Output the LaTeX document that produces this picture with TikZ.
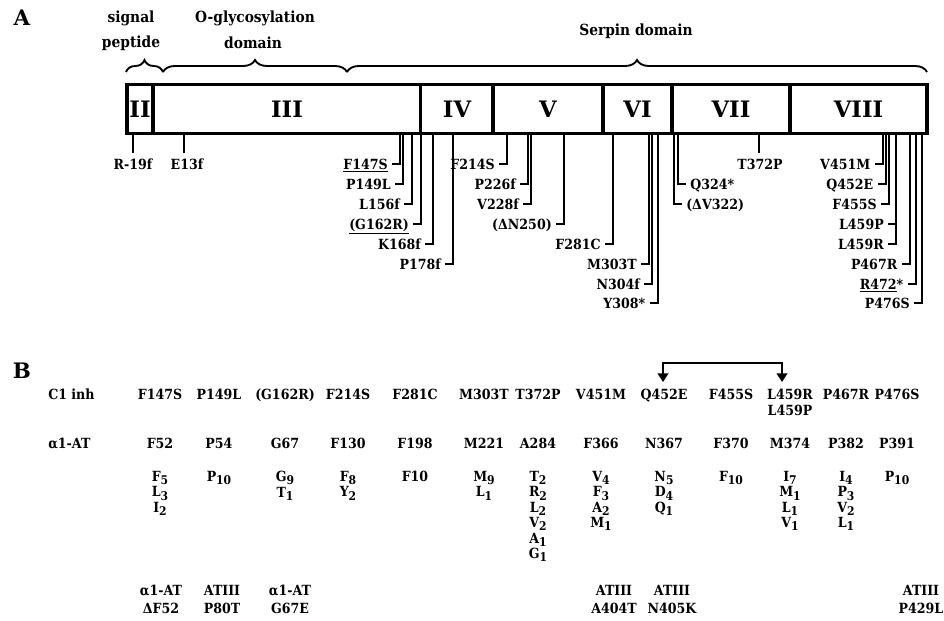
\documentclass[tikz,border=0pt]{standalone}
\usepackage{fontspec}
\setmainfont{DejaVu Serif}[FakeStretch=0.9]
\newfontfamily\exonfont{DejaVu Serif}
\usetikzlibrary{decorations.pathreplacing,arrows.meta}

% lowered index digits in the residue tables
\newcommand\lowidx[1]{\raisebox{-2.3pt}{\fontsize{9}{9}\selectfont #1}}
% mutation with its label to the left of the vertical line
\newcommand\mutleft[4]{%
  \coordinate (#1-t) at (#2,133.5);
  \node[mutl] (#1) at (#2-12,#3) {#4};
  \draw[tick] (#1-t) |- ([xshift=3pt]#1.east);
}
% mutation with its label to the right of the vertical line
\newcommand\mutright[4]{%
  \coordinate (#1-t) at (#2,133.5);
  \node[mutr] (#1) at (#2+12,#3) {#4};
  \draw[tick] (#1-t) |- ([xshift=-3pt]#1.west);
}
% mutation with its label centred under a short line
\newcommand\mutcenter[4]{%
  \coordinate (#1-t) at (#2,133.5);
  \node[mutc] (#1) at (#3,153) {#4};
  \draw[tick] (#1-t) -- (#1-t |- #1.north);
}

\begin{document}
\begin{tikzpicture}[x=0.75pt,y=-0.75pt,
  lab/.style={font=\bfseries\fontsize{10.5}{11.4}\selectfont, inner sep=0pt,
              text height=7.6pt, text depth=0pt},
  mutl/.style={lab, anchor=east},
  mutr/.style={lab, anchor=west},
  mutc/.style={lab, anchor=north, inner ysep=4.3pt},
  tick/.style={line width=1.5pt},
  wall/.style={line width=2.6pt},
  exon/.style={font=\exonfont\bfseries\fontsize{17}{17}\selectfont, inner sep=0pt},
  brc/.style={decorate, decoration={brace, amplitude=9pt}, line width=1.4pt},
  head/.style={font=\bfseries\fontsize{11.5}{13}\selectfont, inner sep=0pt},
  panel/.style={font=\exonfont\bfseries\fontsize{16}{16}\selectfont, inner sep=0pt},
  cell/.style={font=\bfseries\fontsize{10.5}{11.4}\selectfont, inner sep=0pt, anchor=base},
  rowhead/.style={cell, anchor=base west},
  stack/.style={font=\bfseries\fontsize{10.5}{11.6}\selectfont, inner sep=0pt,
                anchor=north, align=center},
  pair/.style={font=\bfseries\fontsize{10.5}{13.5}\selectfont, inner sep=0pt,
               anchor=north, align=center},
]
\useasboundingbox (0,0) rectangle (944,620);

% ---------------- panel A ----------------
\node[panel] (pA) at (22,18) {A};

\node[head] (sig1) at (131,18) {signal};
\node[head] (sig2) at (131,43) {peptide};
\node[head] (gly1) at (255,18) {O-glycosylation};
\node[head] (gly2) at (253,43) {domain};
\node[head] (ser) at (636,31) {Serpin domain};

\coordinate (b0) at (126,72);
\coordinate (b1) at (163,72);
\coordinate (b2) at (347,72);
\coordinate (b3) at (927,72);
\draw[brc] (b0) -- (b1);
\draw[brc] (b1) -- (b2);
\draw[brc] (b2) -- (b3);

% exon bar
\draw[wall] (127,84.5) rectangle (927,133.5);
\foreach \xd in {153,420.5,493,603,672,790}
  \draw[wall] (\xd,84.5) -- (\xd,133.5);
\node[exon] (e2) at (140,109) {II};
\node[exon] (e3) at (287,109) {III};
\node[exon] (e4) at (457,109) {IV};
\node[exon] (e5) at (548,109) {V};
\node[exon] (e6) at (637.5,109) {VI};
\node[exon] (e7) at (731,109) {VII};
\node[exon] (e8) at (858.5,109) {VIII};

% mutations
\mutcenter{rm19}{133}{133}{R-19f}
\mutcenter{e13}{184}{187}{E13f}
\mutleft{f147}{400}{164}{\underline{F147S}}
\mutleft{p149}{403}{184}{P149L}
\mutleft{l156}{412}{204}{L156f}
\mutleft{g162}{421}{224}{\underline{(G162R)}}
\mutleft{k168}{433}{244}{K168f}
\mutleft{p178}{453}{264}{P178f}
\mutleft{f214}{507}{164}{F214S}
\mutleft{p226}{528}{184}{P226f}
\mutleft{v228}{531}{204}{V228f}
\mutleft{n250}{564}{224}{(ΔN250)}
\mutleft{f281}{613}{244}{F281C}
\mutleft{m303}{649}{264}{M303T}
\mutleft{n304}{652}{284}{N304f}
\mutleft{y308}{657.5}{303}{Y308*}
\mutright{q324}{678}{184}{Q324*}
\mutright{v322}{674}{204}{(ΔV322)}
\mutcenter{t372}{759}{760}{T372P}
\mutleft{v451}{882.5}{164}{V451M}
\mutleft{q452}{885.5}{184}{Q452E}
\mutleft{f455}{889}{204}{F455S}
\mutleft{l459r}{896}{244}{L459R}
\node[mutl] (l459p) at (884,224) {L459P};
\draw[tick] (l459r-t |- l459p.east) -- ([xshift=3pt]l459p.east);
\mutleft{p467}{909.5}{264}{P467R}
\mutleft{r472}{915.5}{284}{\underline{R472}*}
\mutleft{p476}{922}{303}{P476S}

% ---------------- panel B ----------------
\node[panel] (pB) at (22,371) {B};

\node[rowhead] (hC) at (48,399) {C1 inh};
\node[rowhead] (hA) at (48,448) {α1-AT};

% C1 inhibitor mutations
\node[cell] (c1) at (160,399) {F147S};
\node[cell] (c2) at (219,399) {P149L};
\node[cell] (c3) at (285,399) {(G162R)};
\node[cell] (c4) at (348,399) {F214S};
\node[cell] (c5) at (415,399) {F281C};
\node[cell] (c6) at (484,399) {M303T};
\node[cell] (c7) at (538,399) {T372P};
\node[cell] (c8) at (601,399) {V451M};
\node[cell] (c9) at (664,399) {Q452E};
\node[cell] (c10) at (731,399) {F455S};
\node[cell] (c11) at (790,399) {L459R};
\node[cell] (c11b) at (790,415) {L459P};
\node[cell] (c12) at (846,399) {P467R};
\node[cell] (c13) at (897,399) {P476S};

% linked pair
\coordinate (lnkQ) at (663,382);
\coordinate (lnkL) at (782,382);
\draw[line width=1.5pt, {Triangle[width=8pt,length=6.5pt]}-{Triangle[width=8pt,length=6.5pt]}]
  (lnkQ) -- ++(0,-19) -| (lnkL);

% alpha1-antitrypsin equivalents
\node[cell] (a1) at (160,448) {F52};
\node[cell] (a2) at (219,448) {P54};
\node[cell] (a3) at (285,448) {G67};
\node[cell] (a4) at (348,448) {F130};
\node[cell] (a5) at (415,448) {F198};
\node[cell] (a6) at (484,448) {M221};
\node[cell] (a7) at (538,448) {A284};
\node[cell] (a8) at (601,448) {F366};
\node[cell] (a9) at (664,448) {N367};
\node[cell] (a10) at (731,448) {F370};
\node[cell] (a11) at (790,448) {M374};
\node[cell] (a12) at (846,448) {P382};
\node[cell] (a13) at (897,448) {P391};

% residue frequencies
\node[stack] (s1) at (160,471) {F\lowidx{5}\\L\lowidx{3}\\I\lowidx{2}};
\node[stack] (s2) at (219,471) {P\lowidx{10}};
\node[stack] (s3) at (285,471) {G\lowidx{9}\\T\lowidx{1}};
\node[stack] (s4) at (348,471) {F\lowidx{8}\\Y\lowidx{2}};
\node[stack] (s5) at (415,471) {F10};
\node[stack] (s6) at (484,471) {M\lowidx{9}\\L\lowidx{1}};
\node[stack] (s7) at (538,471) {T\lowidx{2}\\R\lowidx{2}\\L\lowidx{2}\\V\lowidx{2}\\A\lowidx{1}\\G\lowidx{1}};
\node[stack] (s8) at (601,471) {V\lowidx{4}\\F\lowidx{3}\\A\lowidx{2}\\M\lowidx{1}};
\node[stack] (s9) at (664,471) {N\lowidx{5}\\D\lowidx{4}\\Q\lowidx{1}};
\node[stack] (s10) at (731,471) {F\lowidx{10}};
\node[stack] (s11) at (790,471) {I\lowidx{7}\\M\lowidx{1}\\L\lowidx{1}\\V\lowidx{1}};
\node[stack] (s12) at (846,471) {I\lowidx{4}\\P\lowidx{3}\\V\lowidx{2}\\L\lowidx{1}};
\node[stack] (s13) at (897,471) {P\lowidx{10}};

% other serpins
\node[pair] (o1) at (161,585) {α1-AT\\ΔF52};
\node[pair] (o2) at (222,585) {ATIII\\P80T};
\node[pair] (o3) at (290,585) {α1-AT\\G67E};
\node[pair] (o4) at (614,585) {ATIII\\A404T};
\node[pair] (o5) at (672,585) {ATIII\\N405K};
\node[pair] (o6) at (921,585) {ATIII\\P429L};
\end{tikzpicture}
\end{document}
